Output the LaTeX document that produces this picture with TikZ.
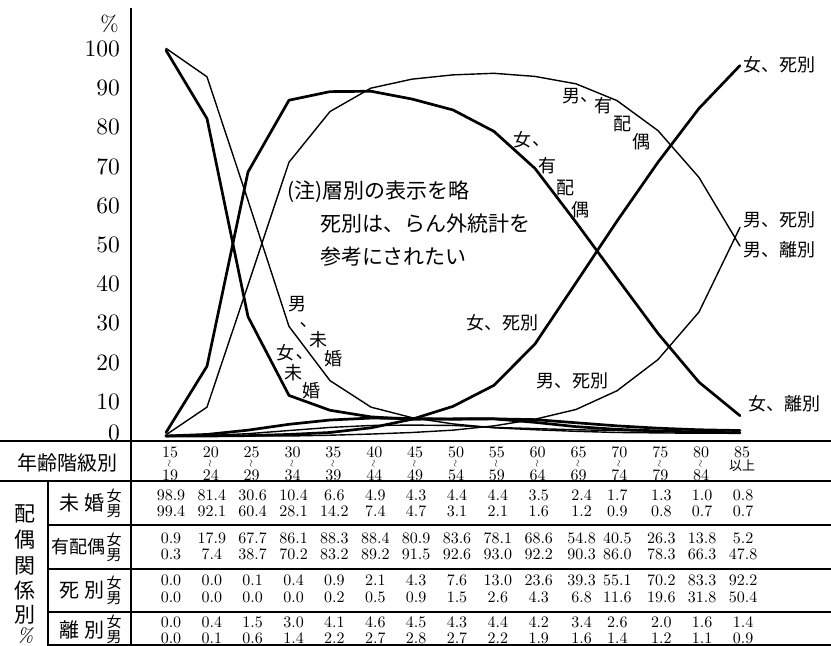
\documentclass[tikz,border=0pt]{standalone}
\usepackage{fontspec}
\usepackage{graphicx}
\setmainfont{lmroman10-regular.otf}[ItalicFont=lmroman10-italic.otf]
\newfontfamily\jp{Noto Sans CJK JP}
\begin{document}
\begin{tikzpicture}[x=1pt,y=-1pt,
  fline/.style={line width=2.7pt,line join=round,line cap=round},
  mline/.style={line width=1.4pt,line join=round,line cap=round},
  rule/.style={line width=1.3pt},
  num/.style={font=\fontsize{16}{16}\selectfont,inner sep=0pt},
  hnum/.style={font=\fontsize{16}{16}\selectfont,inner sep=0pt},
  ylab/.style={font=\fontsize{23.5}{23.5}\selectfont,inner sep=0pt,anchor=east},
  jlab/.style={font=\jp\fontsize{18}{18}\selectfont,inner sep=0pt},
  jnote/.style={font=\jp\fontsize{21}{21}\selectfont,inner sep=0pt,anchor=west},
  jtab/.style={font=\jp\fontsize{20}{20}\selectfont,inner sep=0pt},
  jsex/.style={font=\jp\fontsize{15}{15}\selectfont,inner sep=0pt}]
\useasboundingbox (0,0) rectangle (831,646);
\fill[white] (0,0) rectangle (831,646);

% axes and table rules
\draw[rule] (131,8) -- (131,646);
\draw[rule] (0,441) -- (831,441);
\draw[rule] (0,481) -- (831,481);
\draw[rule] (48,525) -- (831,525);
\draw[rule] (48,569) -- (831,569);
\draw[rule] (48,612) -- (831,612);
\draw[rule] (48,645) -- (831,645);
\draw[rule] (48,481) -- (48,646);

% y labels
\node[ylab,font=\fontsize{22}{22}\selectfont] (pct) at (119,24) {\%};
\foreach \k/\t in {1/10,2/20,3/30,4/40,5/50,6/60,7/70,8/80,9/90,10/100}
  \node[ylab] (y\t) at (120,{441-39.2*\k}) {\t};
\node[ylab] (y0) at (120,433) {0};

% curves
\begin{scope}[shift={(166,436)},x=41pt,y=3.9pt]
% female unmarried
\draw[fline] plot coordinates {(0,98.9) (1,81.4) (2,30.6) (3,10.4) (4,6.6) (5,4.9) (6,4.3) (7,4.4) (8,4.4) (9,3.5) (10,2.4) (11,1.7) (12,1.3) (13,1.0) (14,0.8)};
% male unmarried
\draw[mline] plot coordinates {(0,99.4) (1,92.1) (2,60.4) (3,28.1) (4,14.2) (5,7.4) (6,4.7) (7,3.1) (8,2.1) (9,1.6) (10,1.2) (11,0.9) (12,0.8) (13,0.7) (14,0.7)};
% female married
\draw[fline] plot coordinates {(0,0.9) (1,17.9) (2,67.7) (3,86.1) (4,88.3) (5,88.4) (6,86.4) (7,83.6) (8,78.1) (9,68.6) (10,54.8) (11,40.5) (12,26.3) (13,13.8) (14,5.2)};
% male married
\draw[mline] plot coordinates {(0,0.3) (1,7.4) (2,38.7) (3,70.2) (4,83.2) (5,89.2) (6,91.5) (7,92.6) (8,93.0) (9,92.2) (10,90.3) (11,86.0) (12,78.3) (13,66.3) (14,48.7)};
% female widowed
\draw[fline] plot coordinates {(0,0) (1,0) (2,0.1) (3,0.4) (4,0.9) (5,2.1) (6,4.3) (7,7.6) (8,13.0) (9,23.6) (10,39.3) (11,55.1) (12,70.2) (13,84.0) (14,95.0)};
% male widowed
\draw[mline] plot coordinates {(0,0) (1,0) (2,0) (3,0) (4,0.2) (5,0.5) (6,0.9) (7,1.5) (8,2.6) (9,4.3) (10,6.8) (11,11.6) (12,19.6) (13,31.8) (14,53.5)};
% female divorced
\draw[fline] plot coordinates {(0,0) (1,0.4) (2,1.5) (3,3.0) (4,4.1) (5,4.6) (6,4.5) (7,4.3) (8,4.4) (9,4.2) (10,3.4) (11,2.6) (12,2.0) (13,1.6) (14,1.4)};
% male divorced
\draw[mline] plot coordinates {(0,0) (1,0.1) (2,0.6) (3,1.4) (4,2.2) (5,2.7) (6,2.8) (7,2.7) (8,2.2) (9,1.9) (10,1.6) (11,1.4) (12,1.2) (13,1.1) (14,0.9)};
\end{scope}

% curve labels
\node[jlab,anchor=west] (lfw) at (743,65) {女、死別};
\node[jlab,anchor=west] (lmw) at (743,220) {男、死別};
\node[jlab,anchor=west] (lmd) at (743,250) {男、離別};
\node[jlab,anchor=west] (lfd) at (748,404) {女、離別};
\node[jlab,anchor=west] (lfw2) at (466,323) {女、死別};
\node[jlab,anchor=west] (lmw2) at (536,381) {男、死別};
% male married staircase
\node[jlab] (mm1) at (571,96) {男};
\node[jlab] (mm2) at (589,100) {、};
\node[jlab] (mm3) at (603,106) {有};
\node[jlab] (mm4) at (622,124) {配};
\node[jlab] (mm5) at (641,142) {偶};
% female married staircase
\node[jlab] (fm1) at (522,140) {女};
\node[jlab] (fm2) at (541,144) {、};
\node[jlab] (fm3) at (547,166) {有};
\node[jlab] (fm4) at (565,188) {配};
\node[jlab] (fm5) at (580,210) {偶};
% male unmarried
\node[jlab] (mu1) at (297,304) {男};
\node[jlab] (mu2) at (305,325) {､};
\node[jlab] (mu3) at (318,340) {未};
\node[jlab] (mu4) at (333,359) {婚};
% female unmarried
\node[jlab] (fu1) at (285,353) {女};
\node[jlab] (fu2) at (301,357) {､};
\node[jlab] (fu3) at (293,373) {未};
\node[jlab] (fu4) at (311,391) {婚};

% note
\node[jnote] (n1) at (287,192) {(注)層別の表示を略};
\node[jnote] (n2) at (320,224) {死別は、らん外統計を};
\node[jnote] (n3) at (320,257) {参考にされたい};

% table header
\node[jtab] (hdr) at (67,463) {年齢階級別};
\foreach \a/\b [count=\i from 0] in {15/19,20/24,25/29,30/34,35/39,40/44,45/49,50/54,55/59,60/64,65/69,70/74,75/79,80/84}{
  \node[hnum] (ha\i) at ({170+40.86*\i},452) {\a};
  \node[hnum] (ht\i) at ({170+40.86*\i},463.5) {\rotatebox{90}{\fontsize{10}{10}\selectfont$\sim$}};
  \node[hnum] (hb\i) at ({170+40.86*\i},475) {\b};
}
\node[hnum] (ha14) at (742,452) {85};
\node[jsex,font=\jp\fontsize{13}{13}\selectfont] (hb14) at (742,466) {以上};

% left column
\foreach \c/\yy [count=\i] in {配/514,偶/540,関/566,係/591,別/615}
  \node[font=\jp\fontsize{21}{21}\selectfont,inner sep=0pt] (lc\i) at (25,\yy) {\c};
\node[font=\fontsize{20}{20}\selectfont\itshape,inner sep=0pt] (lc6) at (25,636) {\%};

% row labels
\node[jtab] (r1) at (82,503) {未\hspace{0.25em}婚};
\node[jtab,font=\jp\fontsize{18}{18}\selectfont] (r2) at (79,547) {有配偶};
\node[jtab] (r3) at (82,590) {死\hspace{0.25em}別};
\node[jtab] (r4) at (82,630) {離\hspace{0.25em}別};
\foreach \yy [count=\i] in {503,547,590,629}{
  \node[jsex] (sf\i) at (114,\yy-7) {女};
  \node[jsex] (sm\i) at (114,\yy+8) {男};
}

% table numbers
\foreach \row/\yy in {
  {98.9,81.4,30.6,10.4,6.6,4.9,4.3,4.4,4.4,3.5,2.4,1.7,1.3,1.0,0.8}/495,
  {99.4,92.1,60.4,28.1,14.2,7.4,4.7,3.1,2.1,1.6,1.2,0.9,0.8,0.7,0.7}/511,
  {0.9,17.9,67.7,86.1,88.3,88.4,80.9,83.6,78.1,68.6,54.8,40.5,26.3,13.8,5.2}/538,
  {0.3,7.4,38.7,70.2,83.2,89.2,91.5,92.6,93.0,92.2,90.3,86.0,78.3,66.3,47.8}/554,
  {0.0,0.0,0.1,0.4,0.9,2.1,4.3,7.6,13.0,23.6,39.3,55.1,70.2,83.3,92.2}/580,
  {0.0,0.0,0.0,0.0,0.2,0.5,0.9,1.5,2.6,4.3,6.8,11.6,19.6,31.8,50.4}/597,
  {0.0,0.4,1.5,3.0,4.1,4.6,4.5,4.3,4.4,4.2,3.4,2.6,2.0,1.6,1.4}/622,
  {0.0,0.1,0.6,1.4,2.2,2.7,2.8,2.7,2.2,1.9,1.6,1.4,1.2,1.1,0.9}/638}{
  \foreach \v [count=\i from 0] in \row
    \node[num] (n\yy-\i) at ({171+40.86*\i+2*(\i==10)-3*(\i==11)},\yy) {\v};
}
\end{tikzpicture}
\end{document}
